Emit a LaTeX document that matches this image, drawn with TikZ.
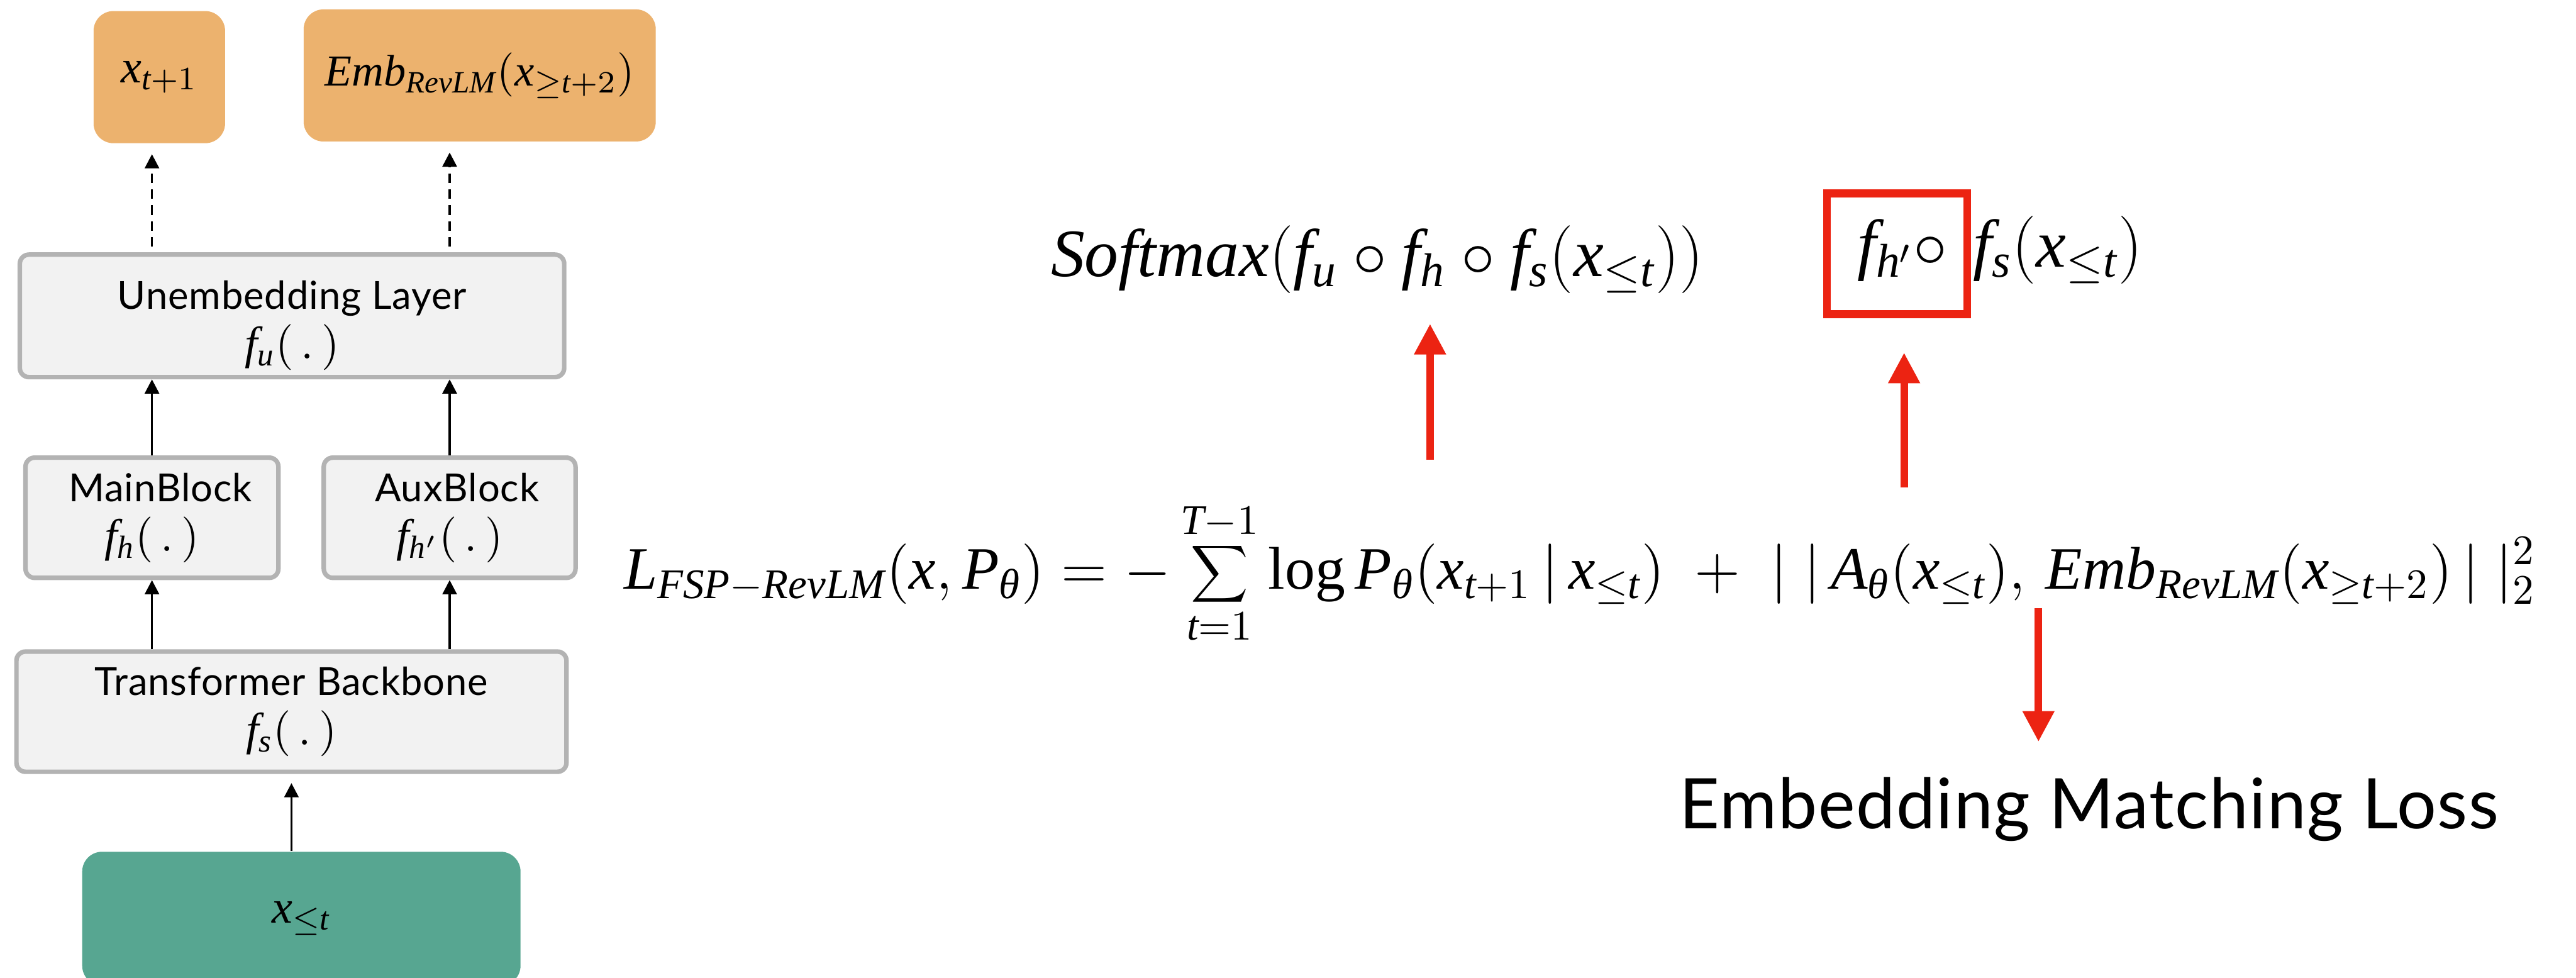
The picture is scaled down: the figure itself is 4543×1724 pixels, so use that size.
\RequirePackage{fix-cm}
\documentclass[tikz,border=0pt]{standalone}
\usepackage{fontspec}
\setmainfont{Liberation Serif}
\setsansfont{Lato}[LetterSpace=1.5]
\newfontfamily\timesfam{Liberation Serif}[NFSSFamily=ltimes]
\usetikzlibrary{arrows.meta,calc}

% Times-Kursiv fuer Buchstaben in Formeln
\makeatletter
\DeclareSymbolFont{timesit}{TU}{ltimes}{m}{it}
\count@=`a
\loop
  \Umathcode\count@=7 \symtimesit \count@
  \Umathcode\numexpr\count@-32\relax=7 \symtimesit \numexpr\count@-32\relax
\ifnum\count@<`z \advance\count@ by 1 \repeat
\Umathchardef\theta=0 \symtimesit "03B8
\makeatother

\definecolor{boxgray}{RGB}{242,242,242}
\definecolor{edgegray}{RGB}{179,179,179}
\definecolor{outorange}{RGB}{236,178,110}
\definecolor{ingreen}{RGB}{87,166,145}
\definecolor{markred}{RGB}{236,35,18}

\tikzset{
  stagebox/.style={draw=edgegray, fill=boxgray, line width=0.4mm,
    rounded corners=0.8mm, align=center, inner sep=0pt,
    font=\sffamily\fontsize{9.7}{12.5}\selectfont},
  tokbox/.style={fill=outorange, rounded corners=1.75mm, inner sep=0pt,
    font=\fontsize{11.7}{14}\selectfont},
  flowarr/.style={-{Triangle[length=1.25mm,width=1.25mm]}, line width=0.2mm},
  predarr/.style={flowarr, dash pattern=on 0.85mm off 0.55mm},
  redarr/.style={-{Triangle[length=2.7mm,width=2.65mm]}, draw=markred,
    line width=0.65mm},
  eqtext/.style={anchor=base west, inner sep=0pt}
}

\newcommand{\mathline}[1]{{\fontsize{11.5}{12.5}\selectfont$#1$}}
\newcommand{\toppad}{\rule{0pt}{4.2mm}}

\begin{document}
\begin{tikzpicture}[x=0.05mm,y=-0.05mm]
\useasboundingbox (0,0) rectangle (4543,1724);
\clip (0,0) rectangle (4543,1724);

% Ausgaben
\node[tokbox, minimum width=11.6mm, minimum height=11.65mm] (xnext) at (281,136)
{$x_{t+1}$};
\node[tokbox, font=\fontsize{11.1}{14}\selectfont, minimum width=31.05mm, minimum height=11.65mm] (embnext) at (846,133)
{$Emb_{RevLM}(x_{\geq t+2})$};

% Unembedding
\node[stagebox, minimum width=48mm, minimum height=10.8mm] (unemb) at (515,557)
{\toppad Unembedding Layer\\ \mathline{f_u(\,.\,)}};

% Bloecke
\node[stagebox, minimum width=22.3mm, minimum height=10.6mm] (mainblk) at (268,913)
{\hspace*{1.5mm}MainBlock\\ \mathline{f_h(\,.\,)}};
\node[stagebox, minimum width=22.2mm, minimum height=10.6mm] (auxblk) at (793,913)
{\hspace*{1.3mm}AuxBlock\\ \mathline{f_{h'}(\,.\,)}};

% Backbone
\node[stagebox, minimum width=48.5mm, minimum height=10.6mm] (backbone) at (514,1255)
{Transformer Backbone\\ \mathline{f_s(\,.\,)}};

% Eingabe
\node[tokbox, fill=ingreen, minimum width=38.65mm, minimum height=11.8mm] (xin) at (531.5,1620)
{$x_{\leq t}$};

\draw[flowarr, shorten >=0.8mm] (xin.north -| backbone) -- (backbone.south);
\draw[flowarr] (backbone.north -| mainblk) -- (mainblk.south);
\draw[flowarr] (backbone.north -| auxblk) -- (auxblk.south);
\draw[flowarr] (mainblk.north) -- (unemb.south -| mainblk);
\draw[flowarr] (auxblk.north) -- (unemb.south -| auxblk);
\draw[predarr, shorten <=0.5mm, shorten >=0.9mm] (unemb.north -| mainblk) -- (xnext.south -| mainblk);
\draw[predarr, shorten <=0.5mm, shorten >=0.9mm] (unemb.north -| auxblk) -- (embnext.south -| auxblk);

% Verlust
\node[eqtext, font=\fontsize{15.1}{19}\selectfont] (loss) at (1099,1039)
{$\displaystyle L_{FSP-RevLM}(x, P_\theta) = -\sum_{t=1}^{T-1} \log P_\theta(x_{t+1}\,|\,x_{\leq t})
\;+\; |\;|\, A_\theta(x_{\leq t}),\, Emb_{RevLM}(x_{\geq t+2})\,|\;|_2^2$};

% Koepfe
\node[eqtext, font=\fontsize{17}{21}\selectfont] (smx) at (1852,487)
{$Softmax(f_u \circ f_h \circ f_s(x_{\leq t}))$};
\node[eqtext, font=\fontsize{17}{21}\selectfont] (fhp) at (3274,471)
{$f_{h'}\circ$};
\node[eqtext, font=\fontsize{17}{21}\selectfont] (fsx) at (3478,471)
{$f_s(x_{\leq t})$};
\node[draw=markred, line width=0.68mm, minimum width=12.35mm, minimum height=10.65mm,
  inner sep=0pt] (hbox) at (3345.5,447.5) {};

\node[eqtext, font=\sffamily\fontsize{17.5}{20}\selectfont] (eml) at (2960,1461)
{Embedding Matching Loss};

% rote Pfeile
\coordinate (smxfoot) at (2522,811);
\coordinate (hboxfoot) at (3358,860);
\coordinate (normfoot) at (3595,1072);
\draw[redarr, shorten >=4.2mm] (smxfoot) -- (smxfoot |- smx.base);
\draw[redarr, shorten >=3.05mm] (hboxfoot) -- (hboxfoot |- hbox.south);
\draw[redarr, shorten >=3.05mm] (normfoot) -- (normfoot |- eml.north);

\end{tikzpicture}
\end{document}
